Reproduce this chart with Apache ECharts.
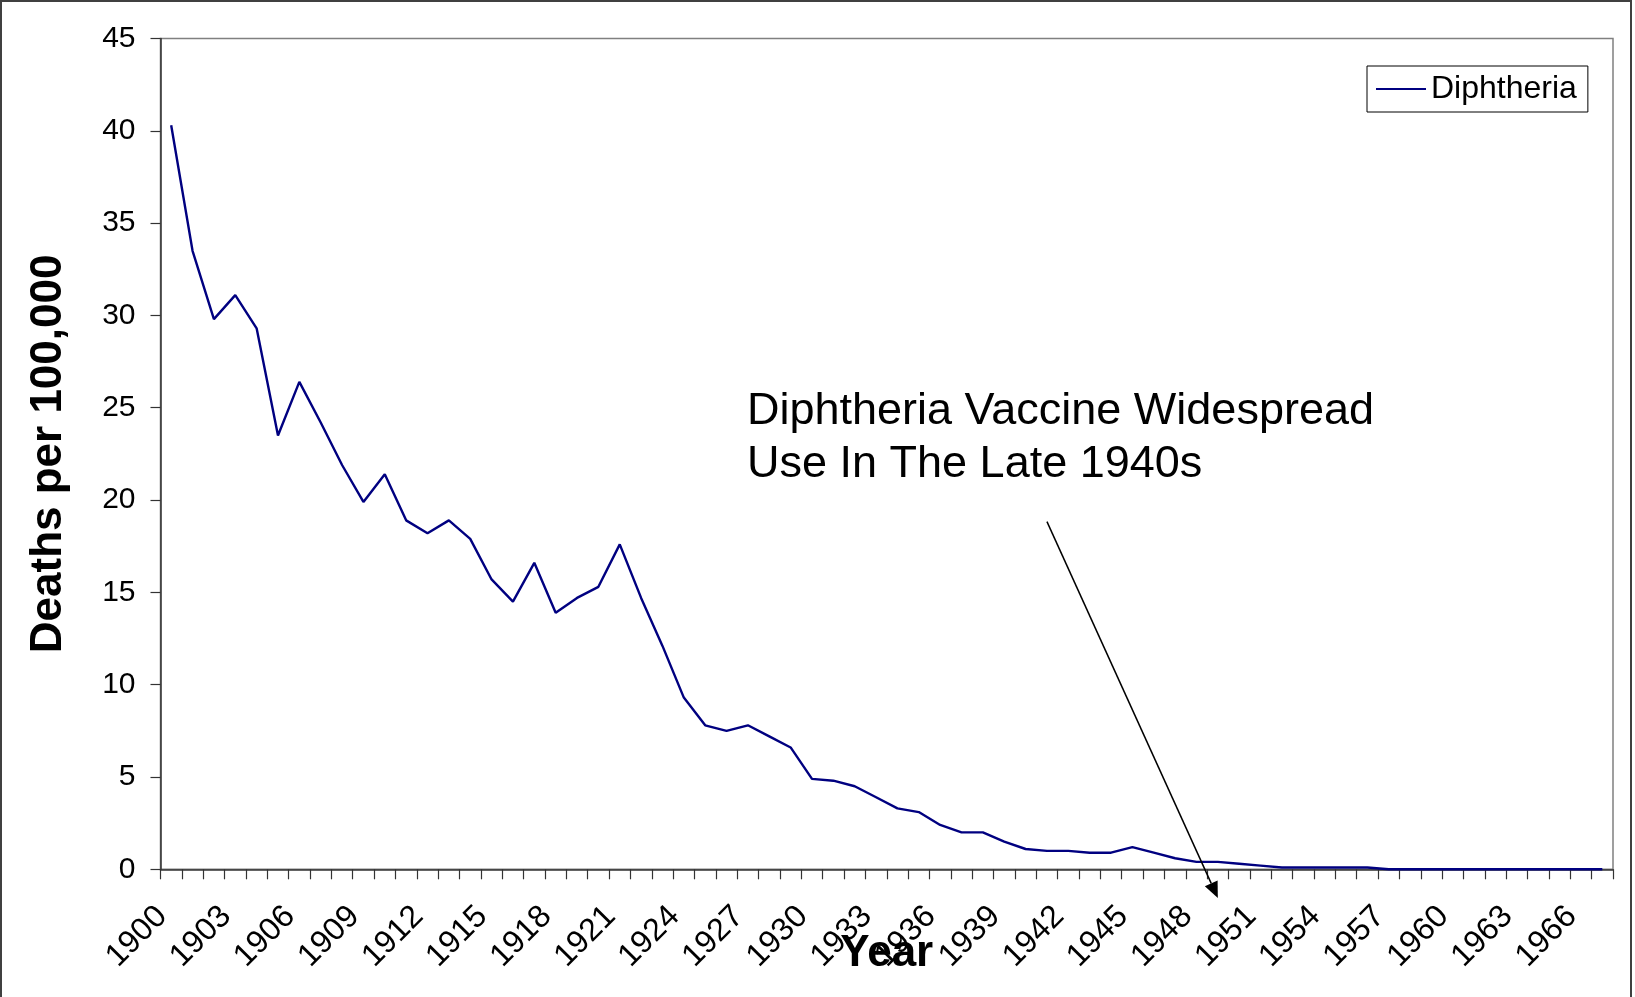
<!DOCTYPE html>
<html>
<head>
    <meta charset="utf-8">
    <script src="https://cdn.jsdelivr.net/npm/echarts@6/dist/echarts.min.js"></script>
    <style>
        html, body { margin: 0; padding: 0; background: #fff; }
    </style>
</head>
<body>
<div id="main" style="width: 1635px;height:997px"></div>

<script type="text/javascript">
    // years on the x axis
    var years = [
        '1900','1901','1902','1903','1904','1905','1906','1907','1908','1909',
        '1910','1911','1912','1913','1914','1915','1916','1917','1918','1919',
        '1920','1921','1922','1923','1924','1925','1926','1927','1928','1929',
        '1930','1931','1932','1933','1934','1935','1936','1937','1938','1939',
        '1940','1941','1942','1943','1944','1945','1946','1947','1948','1949',
        '1950','1951','1952','1953','1954','1955','1956','1957','1958','1959',
        '1960','1961','1962','1963','1964','1965','1966','1967'
    ];
    // deaths per 100,000
    var diphtheria = [
        40.3, 33.5, 29.8, 31.1, 29.3, 23.5, 26.4, 24.2, 21.9, 19.9,
        21.4, 18.9, 18.2, 18.9, 17.9, 15.7, 14.5, 16.6, 13.9, 14.7,
        15.3, 17.6, 14.7, 12.1, 9.3, 7.8, 7.5, 7.8, 7.2, 6.6,
        4.9, 4.8, 4.5, 3.9, 3.3, 3.1, 2.4, 2.0, 2.0, 1.5,
        1.1, 1.0, 1.0, 0.9, 0.9, 1.2, 0.9, 0.6, 0.4, 0.4,
        0.3, 0.2, 0.1, 0.1, 0.1, 0.1, 0.1, 0.0, 0.0, 0.0,
        0.0, 0.0, 0.0, 0.0, 0.0, 0.0, 0.0, 0.0
    ];
    // annotation: arrow from (category index, value) to (category index, value)
    var arrowFrom = [41.3, 18.83];
    var arrowTo = [49.1, -1.55];
    var noteLines = ['Diphtheria Vaccine Widespread', 'Use In The Late 1940s'];

    var font = 'Liberation Sans, Arial, sans-serif';
    var chartDom = document.getElementById('main');
    var myChart = echarts.init(chartDom);
    var option;

    option = {
        animation: false,
        backgroundColor: '#fff',
        textStyle: { fontFamily: font, color: '#000' },
        grid: {
            left: 160.5,
            right: 22,
            top: 38.5,
            bottom: 127.7,
            show: true,
            borderColor: '#808080',
            borderWidth: 1.5,
            backgroundColor: 'transparent',
            outerBoundsMode: 'none'
        },
        legend: {
            data: ['Diphtheria'],
            left: 1367,
            top: 66,
            icon: 'rect',
            itemWidth: 50,
            itemHeight: 2,
            padding: [6, 11, 6, 9],
            borderColor: '#000',
            borderWidth: 1,
            backgroundColor: '#fff',
            textStyle: { fontSize: 32, lineHeight: 34, color: '#000', fontFamily: font }
        },
        xAxis: {
            type: 'category',
            data: years,
            boundaryGap: true,
            name: 'Year',
            nameLocation: 'middle',
            nameGap: 63,
            nameMoveOverlap: false,
            nameTextStyle: { fontSize: 44, fontWeight: 'bold', color: '#000', fontFamily: font },
            axisLine: { lineStyle: { color: '#333', width: 1.5 } },
            axisTick: { show: true, interval: 0, length: 10, lineStyle: { color: '#333', width: 1.2 } },
            axisLabel: {
                interval: 2,
                rotate: 45,
                margin: 33,
                padding: [0, 13, 0, 0],
                fontSize: 32,
                color: '#000',
                fontFamily: font
            },
            splitLine: { show: false }
        },
        yAxis: {
            type: 'value',
            min: 0,
            max: 45,
            interval: 5,
            name: 'Deaths per 100,000',
            nameLocation: 'middle',
            nameGap: 90,
            nameTextStyle: { fontSize: 44, fontWeight: 'bold', color: '#000', fontFamily: font },
            axisLine: { show: true, lineStyle: { color: '#333', width: 1.5 } },
            axisTick: { show: true, length: 10, lineStyle: { color: '#333', width: 1.2 } },
            axisLabel: { margin: 25, fontSize: 30, color: '#000', fontFamily: font },
            splitLine: { show: false }
        },
        series: [
            {
                name: 'Diphtheria',
                type: 'line',
                data: diphtheria,
                symbol: 'none',
                clip: false,
                itemStyle: { color: '#000080' },
                lineStyle: { color: '#000080', width: 2.4 }
            }
        ]
    };

    option && myChart.setOption(option);

    // annotation arrow + text, positioned through the chart's own axes
    var p0 = myChart.convertToPixel({ gridIndex: 0 }, arrowFrom);
    var p1 = myChart.convertToPixel({ gridIndex: 0 }, arrowTo);
    var ang = Math.atan2(p1[1] - p0[1], p1[0] - p0[0]);
    var headLen = 16, headHalf = 7;
    var bx = p1[0] - headLen * Math.cos(ang), by = p1[1] - headLen * Math.sin(ang);
    var nx = -Math.sin(ang) * headHalf, ny = Math.cos(ang) * headHalf;

    myChart.setOption({
        graphic: [
            {
                type: 'rect',
                shape: { x: 1, y: 1, width: 1630, height: 1100 },
                style: { fill: 'none', stroke: '#404040', lineWidth: 2 },
                silent: true
            },
            {
                type: 'line',
                shape: { x1: p0[0], y1: p0[1], x2: bx, y2: by },
                style: { stroke: '#000', lineWidth: 1.5 },
                z: 10
            },
            {
                type: 'polygon',
                shape: { points: [[p1[0], p1[1]], [bx + nx, by + ny], [bx - nx, by - ny]] },
                style: { fill: '#000' },
                z: 10
            },
            {
                type: 'text',
                left: 747,
                top: 385,
                style: {
                    text: noteLines.join('\n'),
                    font: '45px ' + font,
                    lineHeight: 53,
                    fill: '#000'
                },
                z: 10
            }
        ]
    });
</script>
</body>
</html>
